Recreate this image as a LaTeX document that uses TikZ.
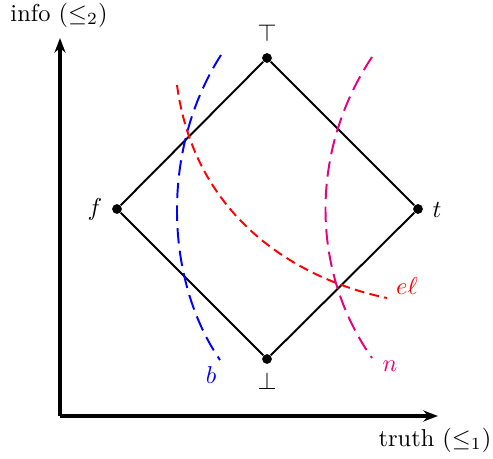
\documentclass[tikz,border=0pt]{standalone}
\usetikzlibrary{arrows.meta}
\definecolor{myblue}{RGB}{0,0,255}
\definecolor{myred}{RGB}{255,0,0}
\definecolor{mymag}{RGB}{228,0,128}
\begin{document}
\begin{tikzpicture}[x=0.41pt,y=-0.41pt,
  axis/.style={line width=1.3pt,-{Stealth[length=6pt,width=4.5pt]}},
  edge/.style={line width=0.8pt},
  dot/.style={circle,fill=black,inner sep=0pt,minimum size=4pt},
  lbl/.style={inner sep=0pt},
  bcurve/.style={myblue,line width=0.8pt,dash pattern=on 6.3pt off 3pt},
  rcurve/.style={myred,line width=0.8pt,dash pattern=on 4pt off 2.2pt},
  ncurve/.style={mymag,line width=0.8pt,dash pattern=on 6.3pt off 3pt}]
\useasboundingbox (0,0) rectangle (493,459);
% axes
\coordinate (O) at (60,416);
\coordinate (Ytip) at (60,38);
\coordinate (Xtip) at (438,416);
\draw[axis] (O) -- (Ytip);
\draw[axis] (O) -- (Xtip);
\node[lbl] (info) at (59,15) {info ($\leq_2$)};
\node[lbl] (truth) at (435,440) {truth ($\leq_1$)};
% diamond
\node[dot] (top) at (267,58) {};
\node[dot] (bot) at (267,359) {};
\node[dot] (f) at (117,209) {};
\node[dot] (t) at (418,209) {};
\draw[edge] (f) -- (top) -- (t) -- (bot) -- (f);
\node[lbl] (topl) at (267,33) {$\top$};
\node[lbl] (botl) at (267,381) {$\bot$};
\node[lbl] (fl) at (95,209) {$f$};
\node[lbl] (tl) at (437,210) {$t$};
% curves
\coordinate (b1) at (221,55);
\coordinate (b2) at (220,360);
\draw[bcurve] (b1) .. controls (160,150) and (165,280) .. (b2);
\node[lbl,text=myblue] (bl) at (211,375) {$b$};
\coordinate (r1) at (177,85);
\coordinate (r2) at (387,298);
\draw[rcurve] (r1) .. controls (195,220) and (300,280) .. (r2);
\node[lbl,text=myred] (rl) at (407,286) {$e\ell$};
\coordinate (n1) at (372,57);
\coordinate (n2) at (372,358);
\draw[ncurve] (n1) .. controls (310,150) and (310,270) .. (n2);
\node[lbl,text=mymag] (nl) at (390,366) {$n$};
\end{tikzpicture}
\end{document}
